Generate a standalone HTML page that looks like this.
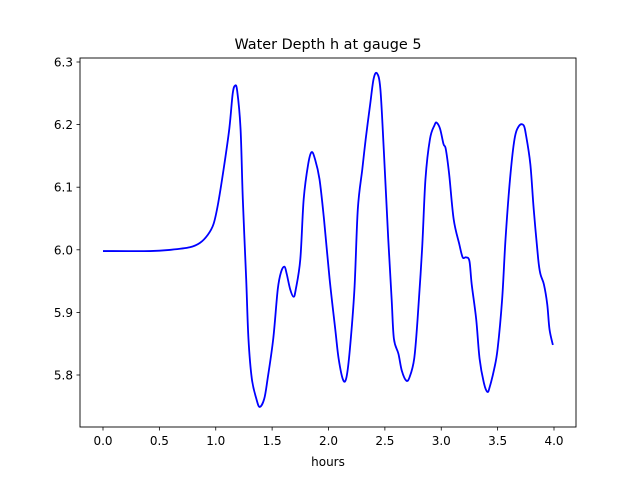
<!DOCTYPE html>
<html><head><meta charset="utf-8"><style>
body{margin:0;background:#fff}
svg text{font-family:"DejaVu Sans","Liberation Sans",sans-serif;fill:#000}
</style></head><body>
<svg id="chart" width="640" height="480" xmlns="http://www.w3.org/2000/svg">
<rect width="640" height="480" fill="#fff"/>
<text x="328" y="49" font-size="14.4" text-anchor="middle">Water Depth h at gauge 5</text>
<text x="328" y="466" font-size="12" text-anchor="middle">hours</text>
<g id="ticks"></g>
<path id="series" fill="none" stroke="#0000ff" stroke-width="1.8"/>
<rect x="80" y="58" width="496" height="369" fill="none" stroke="#000" stroke-width="0.9"/>
</svg>
<script>
const hours=[0,0.42,0.6,0.77,0.86,0.93,0.98,1.02,1.07,1.12,1.15,1.17,1.19,1.22,1.24,1.27,1.29,1.32,1.36,1.39,1.43,1.46,1.51,1.55,1.58,1.61,1.63,1.66,1.69,1.71,1.75,1.78,1.82,1.85,1.88,1.92,1.96,2.01,2.06,2.09,2.13,2.16,2.19,2.23,2.26,2.30,2.33,2.37,2.40,2.43,2.46,2.49,2.53,2.56,2.58,2.62,2.65,2.69,2.72,2.76,2.79,2.83,2.86,2.90,2.94,2.96,2.99,3.02,3.04,3.07,3.11,3.16,3.19,3.22,3.25,3.27,3.31,3.34,3.38,3.41,3.43,3.47,3.50,3.54,3.57,3.61,3.65,3.69,3.73,3.75,3.79,3.82,3.86,3.88,3.91,3.94,3.96,3.99];
const depth=[5.998,5.998,6.000,6.004,6.011,6.024,6.041,6.073,6.129,6.193,6.249,6.262,6.254,6.193,6.081,5.953,5.858,5.794,5.762,5.749,5.762,5.794,5.858,5.937,5.965,5.973,5.961,5.937,5.925,5.937,5.985,6.081,6.137,6.156,6.145,6.113,6.049,5.953,5.873,5.826,5.792,5.797,5.842,5.937,6.065,6.129,6.177,6.233,6.273,6.282,6.257,6.161,6.017,5.921,5.858,5.834,5.807,5.791,5.797,5.826,5.889,6.001,6.113,6.177,6.199,6.203,6.193,6.169,6.161,6.121,6.049,6.009,5.988,5.988,5.982,5.945,5.889,5.826,5.786,5.773,5.781,5.810,5.842,5.921,6.017,6.113,6.177,6.198,6.199,6.185,6.137,6.065,5.985,5.961,5.945,5.913,5.873,5.848];
const xTicks=[0,0.5,1,1.5,2,2.5,3,3.5,4];
const yTicks=[5.8,5.9,6.0,6.1,6.2,6.3];
const xs=h=>103+h*(554-103)/4;
const ys=v=>375-(v-5.8)*(375-62)/0.5;
const NS="http://www.w3.org/2000/svg";
const g=document.getElementById('ticks');
xTicks.forEach(t=>{
  const l=document.createElementNS(NS,'line');
  
  
  l.setAttribute('x1',xs(t));l.setAttribute('x2',xs(t));l.setAttribute('y1',427);l.setAttribute('y2',430.5);l.setAttribute('stroke','#000');l.setAttribute('stroke-width','0.8');
  g.appendChild(l);
  const tx=document.createElementNS(NS,'text');
  
  
  tx.setAttribute('x',xs(t));tx.setAttribute('y',445);tx.setAttribute('font-size','12');tx.setAttribute('text-anchor','middle');
  tx.textContent=t.toFixed(1);g.appendChild(tx);
});
yTicks.forEach(t=>{
  const l=document.createElementNS(NS,'line');
  
  
  l.setAttribute('x1',76.5);l.setAttribute('x2',80);l.setAttribute('y1',ys(t));l.setAttribute('y2',ys(t));l.setAttribute('stroke','#000');l.setAttribute('stroke-width','0.8');
  g.appendChild(l);
  const tx=document.createElementNS(NS,'text');
  
  
  tx.setAttribute('x',73);tx.setAttribute('y',ys(t)+4.5);tx.setAttribute('font-size','12');tx.setAttribute('text-anchor','end');
  tx.textContent=t.toFixed(1);g.appendChild(tx);
});
const P=hours.map((h,i)=>[xs(h),ys(depth[i])]);
let d='M'+P[0][0]+','+P[0][1];
for(let i=0;i<P.length-1;i++){
  const p0=P[Math.max(0,i-1)],p1=P[i],p2=P[i+1],p3=P[Math.min(P.length-1,i+2)];
  const c1=[p1[0]+(p2[0]-p0[0])/6,p1[1]+(p2[1]-p0[1])/6];
  const c2=[p2[0]-(p3[0]-p1[0])/6,p2[1]-(p3[1]-p1[1])/6];
  d+=` C${c1[0]},${c1[1]} ${c2[0]},${c2[1]} ${p2[0]},${p2[1]}`;
}
document.getElementById('series').setAttribute('d',d);
</script>
</body></html>
